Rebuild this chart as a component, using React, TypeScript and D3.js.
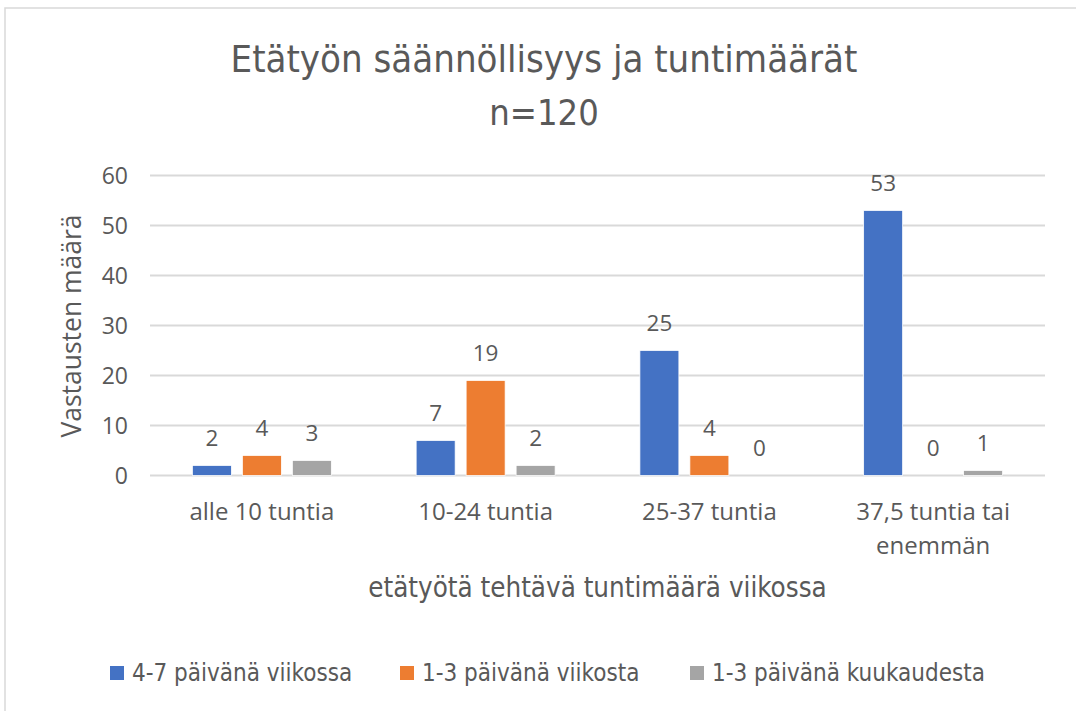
import React from 'react';
import * as d3 from 'd3';

const categories = ['alle 10 tuntia', '10-24 tuntia', '25-37 tuntia', '37,5 tuntia tai enemmän'];
const categoryLines = [['alle 10 tuntia'], ['10-24 tuntia'], ['25-37 tuntia'], ['37,5 tuntia tai', 'enemmän']];
const seriesNames = ['4-7 päivänä viikossa', '1-3 päivänä viikosta', '1-3 päivänä kuukaudesta'];
const series1 = [2, 7, 25, 53];
const series2 = [4, 19, 4, 0];
const series3 = [3, 2, 0, 1];
const yTicks = [0, 10, 20, 30, 40, 50, 60];
const colours = ['#4472C4', '#ED7D31', '#A5A5A5'];

const W = 1076;
const H = 711;
const plot = { left: 150, right: 1045, top: 175.5, bottom: 475.5 };
const txt = '#595959';
const segoe = '"Open Sans", "Noto Sans", sans-serif';
const calibri = '"Liberation Sans Narrow", "DejaVu Sans Condensed", sans-serif';

const values = [series1, series2, series3];
const legendX = [110, 400, 690];

export default function App() {
  const x0 = d3.scaleBand<string>()
    .domain(categories)
    .range([plot.left, plot.right])
    .paddingInner(0.379)
    .paddingOuter(0.1895);
  const x1 = d3.scaleBand<string>()
    .domain(seriesNames)
    .range([0, x0.bandwidth()])
    .paddingInner(0.22);
  const y = d3.scaleLinear().domain([0, 60]).range([plot.bottom, plot.top]);

  return (
    <svg width={W} height={H} style={{ position: 'absolute', left: 0, top: 0, background: '#fff' }}>
      <rect x={5} y={8} width={1200} height={900} fill="#fff" stroke="#d9d9d9" strokeWidth={1.5} />

      <text x={544} y={72} textAnchor="middle" fontFamily={calibri} fontSize={38} fill={txt}>
        Etätyön säännöllisyys ja tuntimäärät
      </text>
      <text x={544} y={125} textAnchor="middle" fontFamily={calibri} fontSize={36} fill={txt}>
        n=120
      </text>

      {yTicks.map(t => (
        <g key={t}>
          <line x1={plot.left} x2={plot.right} y1={y(t)} y2={y(t)} stroke="#d9d9d9" strokeWidth={2} />
          <text x={128} y={y(t)} dy="0.35em" textAnchor="end" fontFamily={segoe} fontSize={23} fill={txt}>{t}</text>
        </g>
      ))}

      {categories.map((c, i) => (
        <g key={c} transform={`translate(${x0(c)},0)`}>
          {seriesNames.map((s, j) => {
            const v = values[j][i];
            const bx = x1(s) as number;
            return (
              <g key={s}>
                {v > 0 && (
                  <rect x={bx} y={y(v)} width={x1.bandwidth()} height={y(0) - y(v)} fill={colours[j]}
                    stroke="#fff" strokeWidth={0.75} />
                )}
                <text x={bx + x1.bandwidth() / 2} y={y(v) - 20} textAnchor="middle" fontFamily={segoe}
                  fontSize={22.5} fill={txt}>{v}</text>
              </g>
            );
          })}
          {categoryLines[i].map((line, k) => (
            <text key={k} x={x0.bandwidth() / 2} y={520 + k * 34} textAnchor="middle" fontFamily={segoe}
              fontSize={24} fill={txt}>{line}</text>
          ))}
        </g>
      ))}

      <text transform={`translate(81,326) rotate(-90)`} textAnchor="middle"
        fontFamily={segoe} fontSize={26.5} fill={txt}>Vastausten määrä</text>

      <text x={(plot.left + plot.right) / 2} y={597} textAnchor="middle" fontFamily={calibri} fontSize={27.5} fill={txt}>
        etätyötä tehtävä tuntimäärä viikossa
      </text>

      {seriesNames.map((s, j) => (
        <g key={s}>
          <rect x={legendX[j]} y={666} width={14} height={14} fill={colours[j]} />
          <text x={legendX[j] + 22} y={681} fontFamily={calibri} fontSize={24} fill={txt}>{s}</text>
        </g>
      ))}
    </svg>
  );
}
